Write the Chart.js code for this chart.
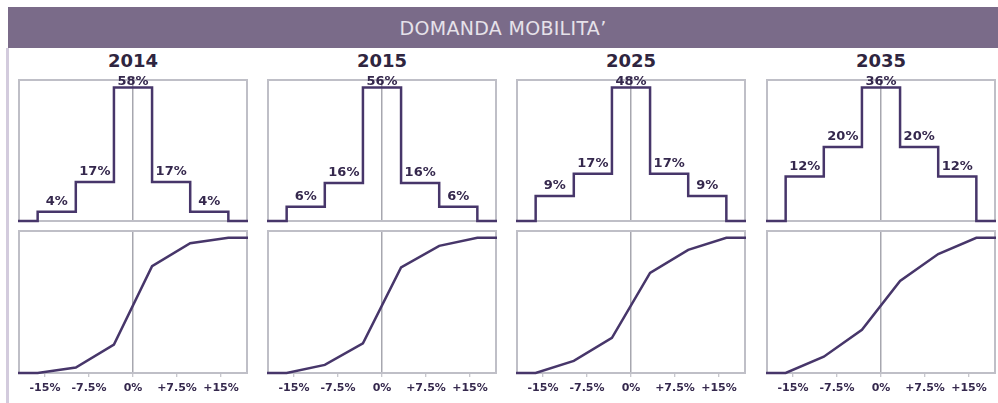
<!DOCTYPE html>
<html>
<head>
<meta charset="utf-8">
<script src="https://cdn.jsdelivr.net/npm/chart.js@4.4.1/dist/chart.umd.min.js"></script>
<style>
  body { margin: 0; background: #fff; width: 998px; height: 403px; overflow: hidden; position: relative; font-family: "DejaVu Sans", sans-serif; }
  .header { position: absolute; left: 8px; top: 7px; width: 990px; height: 41px; background: #7a6b89; color: #e6e2ea; font-size: 19px; line-height: 42px; text-align: center; letter-spacing: 0.3px; }
  .side { position: absolute; left: 6px; top: 48px; width: 3px; height: 355px; background: #d3cbdd; }
  .year { position: absolute; top: 50px; width: 230px; text-align: center; font-weight: bold; font-size: 18px; color: #2f2540; }
  canvas { position: absolute; }
</style>
</head>
<body>
<div class="header">DOMANDA MOBILITA’</div>
<div class="side"></div>
<div id="wrap"></div>
<script>
// classes of variation (%), bin edges and centres
const binEdges = [-16.25, -9.75, -3.25, 3.25, 9.75, 16.25];
const binCenters = [-13, -6.5, 0, 6.5, 13];
const xMin = -19.6;
const xMax = 19.6;

const years = ['2014', '2015', '2025', '2035'];

// share of demand per class (%)
const share2014 = [4, 17, 58, 17, 4];
const share2015 = [6, 16, 56, 16, 6];
const share2025 = [9, 17, 48, 17, 9];
const share2035 = [12, 20, 36, 20, 12];

// cumulative share at each bin edge (%)
const cum2014 = [0, 4, 21, 79, 96, 100];
const cum2015 = [0, 6, 22, 78, 94, 100];
const cum2025 = [0, 9, 26, 74, 91, 100];
const cum2035 = [0, 12, 32, 68, 88, 100];

const axisTicks = [-15, -7.5, 0, 7.5, 15];
const tickLabels = ['-15%', '-7.5%', '0%', '+7.5%', '+15%'];

const shares = [share2014, share2015, share2025, share2035];
const cums = [cum2014, cum2015, cum2025, cum2035];

const panelLeft = [18, 267, 516, 766];
const panelWidth = 230;
const lineColor = '#47366a';
const textColor = '#35284d';

// frame around the plot area
const framePlugin = {
  id: 'frame',
  beforeDatasetsDraw(chart) {
    const a = chart.chartArea;
    const ctx = chart.ctx;
    ctx.save();
    ctx.strokeStyle = '#bfbfc7';
    ctx.lineWidth = 2;
    ctx.strokeRect(a.left + 1, a.top, a.right - a.left - 2, a.bottom - a.top);
    ctx.restore();
  }
};

// percentage labels over the steps
const labelPlugin = {
  id: 'stepLabels',
  afterDatasetsDraw(chart, args, opts) {
    const ctx = chart.ctx;
    const xs = chart.scales.x;
    const ys = chart.scales.y;
    ctx.save();
    ctx.font = 'bold 13px "DejaVu Sans"';
    ctx.fillStyle = textColor;
    ctx.textAlign = 'center';
    ctx.textBaseline = 'middle';
    opts.values.forEach((v, i) => {
      const px = xs.getPixelForValue(binCenters[i]);
      const py = Math.max(ys.getPixelForValue(v) - 10, chart.chartArea.top + 2);
      ctx.fillText(v + '%', px, py);
    });
    ctx.restore();
  }
};

function zeroGrid(c) {
  return c.tick && c.tick.value === 0 ? '#a7a7af' : 'rgba(0,0,0,0)';
}

function makeCanvas(left, top, w, h) {
  const cv = document.createElement('canvas');
  cv.style.left = left + 'px';
  cv.style.top = top + 'px';
  cv.style.width = w + 'px';
  cv.style.height = h + 'px';
  cv.width = w;
  cv.height = h;
  document.getElementById('wrap').appendChild(cv);
  return cv;
}

years.forEach((year, p) => {
  const left = panelLeft[p];

  const t = document.createElement('div');
  t.className = 'year';
  t.style.left = left + 'px';
  t.textContent = year;
  document.getElementById('wrap').appendChild(t);

  // distribution (step chart)
  const share = shares[p];
  const stepData = [{ x: xMin, y: 0 }];
  share.forEach((v, i) => stepData.push({ x: binEdges[i], y: v }));
  stepData.push({ x: binEdges[binEdges.length - 1], y: 0 });
  stepData.push({ x: xMax, y: 0 });

  new Chart(makeCanvas(left, 66, panelWidth, 158), {
    type: 'line',
    data: {
      datasets: [{
        data: stepData,
        stepped: true,
        borderColor: lineColor,
        borderWidth: 2.5,
        pointRadius: 0,
        clip: false
      }]
    },
    options: {
      responsive: false,
      animation: false,
      layout: { padding: { top: 14, bottom: 3, left: 0, right: 0 } },
      plugins: { legend: { display: false }, tooltip: { enabled: false }, stepLabels: { values: share } },
      scales: {
        x: {
          type: 'linear', min: xMin, max: xMax,
          afterBuildTicks: s => { s.ticks = axisTicks.map(v => ({ value: v })); },
          afterFit: s => { s.height = 0; },
          ticks: { display: false },
          grid: { color: zeroGrid, lineWidth: 1.5, drawTicks: false },
          border: { display: false }
        },
        y: { display: false, min: 0, max: Math.max(...share) * 1.057 }
      }
    },
    plugins: [framePlugin, labelPlugin]
  });

  // cumulative curve
  const cum = cums[p];
  const cumData = [{ x: xMin, y: 0 }];
  cum.forEach((v, i) => cumData.push({ x: binEdges[i], y: v }));
  cumData.push({ x: xMax, y: cum[cum.length - 1] });

  new Chart(makeCanvas(left, 225, panelWidth, 175), {
    type: 'line',
    data: {
      datasets: [{
        data: cumData,
        borderColor: lineColor,
        borderWidth: 2.5,
        pointRadius: 0,
        tension: 0,
        clip: false
      }]
    },
    options: {
      responsive: false,
      animation: false,
      layout: { padding: { top: 6, bottom: 0, left: 0, right: 0 } },
      plugins: { legend: { display: false }, tooltip: { enabled: false } },
      scales: {
        x: {
          type: 'linear', min: xMin, max: xMax,
          afterBuildTicks: s => { s.ticks = axisTicks.map(v => ({ value: v })); },
          afterFit: s => { s.height = 27; },
          ticks: {
            autoSkip: false, maxRotation: 0, padding: 5,
            color: textColor,
            font: { family: 'DejaVu Sans', weight: 'bold', size: 11 },
            callback: (v, i) => tickLabels[i]
          },
          grid: { color: zeroGrid, lineWidth: 1.5, tickColor: '#b5b5bd', tickLength: 4, tickWidth: 1 },
          border: { display: false }
        },
        y: { display: false, min: 0, max: 105 }
      }
    },
    plugins: [framePlugin]
  });
});
</script>
</body>
</html>
